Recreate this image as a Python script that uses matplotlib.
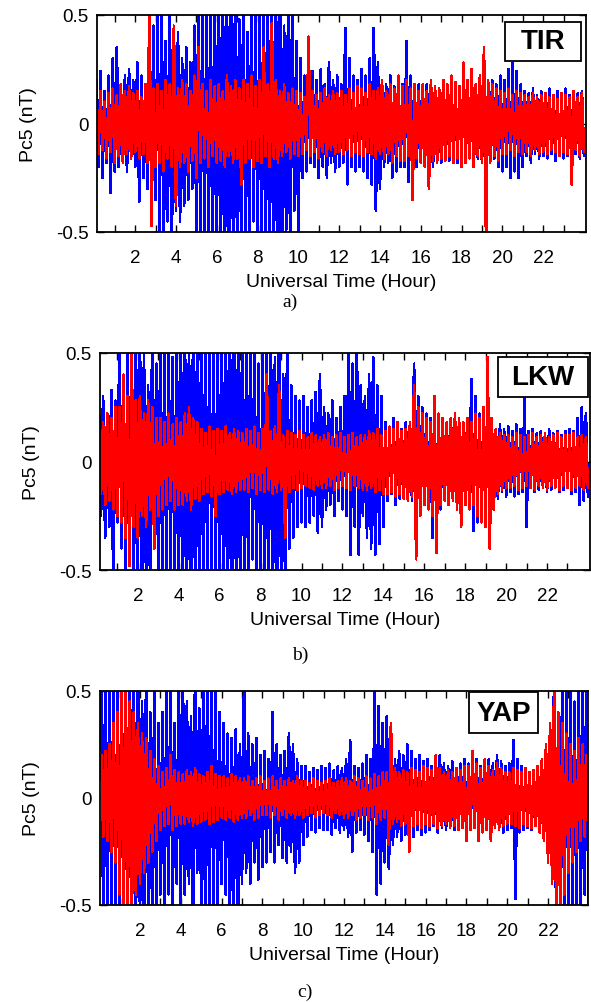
import numpy as np
import matplotlib
matplotlib.use("Agg")
import matplotlib.pyplot as plt
from matplotlib.patches import Rectangle

# ---- data: envelope peaks in units of 0.01 nT, 5 samples per hour (0.2 h step) ----
# up values at t = 0.1, 0.3, ...; down values at t = 0.2, 0.4, ...
stations = ["TIR", "LKW", "YAP"]
panel_tags = ["a)", "b)", "c)"]
hours = list(range(1, 24))
tick_labels = [str(h) if h % 2 == 0 else "" for h in hours]

tir_blue_up = [20,24,15,22,30, 35,18,22,25,20, 28,22,18,35,45, 50,55,38,50,45, 42,30,35,28,45,
               60,60,60,55,60, 60,60,55,60,60, 48,60,42,60,55, 60,60,60,55,60, 60,45,55,60,38,
               30,22,28,24,20, 25,18,28,20,22, 18,44,30,22,20, 25,22,30,44,28, 20,18,22,17,20,
               18,38,22,15,18, 16,18,14,17,15, 15,17,14,16,15, 16,14,17,15,18, 16,15,20,18,22,
               20,25,28,24,18, 15,14,16,13,15, 14,16,13,15,14, 16,13,15,14,15]
tir_blue_dn = [-20,-25,-18,-32,-22, -20,-18,-22,-15,-20, -36,-25,-30,-22,-35, -50,-60,-45,-55,-40,
               -45,-38,-35,-30,-50, -60,-60,-60,-60,-55, -60,-60,-60,-55,-60, -60,-50,-60,-45,-60,
               -60,-60,-55,-60,-60, -60,-50,-60,-40,-55, -25,-22,-18,-20,-25, -20,-25,-18,-22,-20,
               -18,-28,-20,-22,-20, -22,-25,-28,-40,-30, -20,-18,-25,-22,-20, -20,-27,-18,-20,-17,
               -18,-15,-20,-16,-18, -15,-17,-16,-18,-15, -17,-15,-20,-16,-18, -15,-18,-16,-20,-22,
               -20,-25,-22,-25,-20, -15,-18,-14,-16,-15, -16,-14,-17,-15,-16, -15,-17,-14,-16,-15]
tir_red_up = [12,15,10,14,16, 13,18,15,17,14, 15,12,18,55,16, 18,15,20,18,45, 16,20,18,15,22,
              35,18,15,20,17, 18,15,22,17,20, 16,20,18,22,17, 20,35,18,46,20, 15,18,14,16,15,
              14,12,40,15,13, 14,16,13,15,14, 15,13,16,14,17, 16,14,18,15,16, 20,15,18,16,22,
              17,20,16,18,15, 18,15,20,17,16, 20,18,22,19,17, 28,20,25,18,22, 35,20,18,16,15,
              14,16,13,15,14, 13,12,14,12,13, 14,12,13,11,14, 13,12,15,12,14]
tir_red_dn = [-14,-12,-16,-13,-18, -15,-18,-14,-16,-13, -16,-14,-18,-47,-20, -18,-22,-16,-20,-38,
              -20,-18,-22,-17,-25, -18,-16,-20,-15,-18, -17,-20,-15,-18,-16, -28,-18,-16,-20,-17,
              -18,-15,-20,-16,-18, -15,-13,-16,-14,-15, -14,-12,-15,-13,-16, -13,-15,-12,-14,-13,
              -14,-12,-15,-13,-14, -15,-13,-14,-16,-14, -16,-14,-18,-15,-17, -17,-15,-35,-16,-18,
              -20,-30,-17,-18,-16, -17,-15,-18,-16,-20, -18,-16,-20,-15,-18, -55,-18,-15,-17,-14,
              -14,-12,-15,-13,-14, -13,-15,-12,-14,-13, -14,-12,-13,-15,-13, -14,-28,-12,-15,-13]

lkw_blue_up = [25,30,20,33,28, 60,40,55,45,60, 60,50,35,60,45, 60,55,60,48,60, 60,60,52,60,60,
               60,60,60,55,60, 60,60,60,60,55, 60,50,60,60,45, 60,55,60,48,60, 40,60,35,30,28,
               30,25,28,32,40, 25,22,28,20,25, 30,60,45,60,35, 30,40,48,35,30, 18,15,20,16,15,
               18,15,45,30,25, 22,20,25,18,20, 18,20,16,18,15, 20,38,30,22,20, 18,16,15,17,15,
               16,14,17,15,30, 14,15,13,14,12, 15,13,14,12,14, 15,14,20,25,22]
lkw_blue_dn = [-25,-35,-30,-60,-28, -40,-60,-45,-60,-50, -60,-55,-60,-40,-55, -60,-60,-50,-60,-55,
               -60,-55,-60,-60,-60, -60,-60,-55,-60,-60, -60,-60,-60,-55,-60, -55,-60,-45,-60,-60,
               -60,-50,-60,-60,-55, -60,-40,-35,-30,-28, -30,-28,-25,-33,-30, -22,-20,-25,-18,-22,
               -25,-43,-30,-43,-25, -35,-40,-43,-38,-30, -18,-15,-20,-17,-15, -15,-18,-20,-22,-18,
               -20,-35,-30,-22,-18, -18,-16,-20,-17,-15, -20,-32,-28,-20,-18, -18,-15,-17,-14,-16,
               -14,-16,-15,-14,-30, -12,-14,-13,-12,-14, -13,-12,-14,-13,-12, -15,-14,-20,-18,-16]
lkw_red_up = [15,18,22,20,25, 25,40,30,50,28, 30,22,28,25,20, 20,18,22,17,20, 18,22,25,20,18,
              15,13,16,14,15, 14,16,13,15,14, 13,15,14,16,13, 15,40,14,16,35, 12,14,13,12,14,
              12,11,13,12,11, 12,13,11,12,13, 11,12,13,11,12, 12,14,13,15,12, 14,16,15,18,14,
              15,18,35,25,22, 20,18,30,22,20, 18,20,22,20,18, 20,18,22,20,25, 48,20,15,13,12,
              12,11,13,12,11, 12,13,11,12,13, 11,12,13,11,12, 12,13,11,12,11]
lkw_red_dn = [-15,-20,-18,-22,-25, -28,-35,-48,-30,-35, -25,-30,-22,-40,-25, -22,-20,-18,-22,-20,
              -20,-18,-22,-17,-18, -15,-14,-16,-25,-15, -14,-13,-15,-14,-13, -13,-14,-12,-15,-13,
              -14,-13,-15,-14,-13, -35,-14,-12,-13,-12, -11,-12,-13,-11,-12, -12,-11,-13,-12,-11,
              -12,-13,-11,-12,-13, -13,-12,-14,-13,-15, -15,-14,-16,-15,-17, -18,-16,-45,-25,-20,
              -22,-25,-42,-20,-18, -20,-18,-22,-30,-20, -22,-20,-25,-28,-30, -40,-22,-15,-13,-12,
              -12,-11,-13,-12,-11, -12,-13,-11,-12,-13, -11,-12,-13,-11,-12, -13,-12,-11,-13,-12]

yap_blue_up = [60,60,55,60,60, 60,55,60,50,60, 45,60,40,50,35, 40,55,50,35,60, 60,45,38,60,42,
               50,60,60,55,40, 35,30,28,32,25, 55,30,25,28,20, 22,18,40,25,20, 22,30,25,18,15,
               15,12,14,13,15, 14,16,13,15,14, 18,27,15,14,16, 20,18,50,43,35, 38,20,18,22,20,
               25,22,18,20,17, 18,15,17,20,16, 15,17,14,16,18, 16,14,18,15,17, 18,16,20,17,15,
               16,27,18,15,14, 12,13,11,12,14, 30,60,40,60,50, 60,45,60,55,60]
yap_blue_dn = [-60,-60,-55,-60,-60, -60,-60,-50,-60,-55, -60,-50,-60,-55,-45, -60,-45,-55,-40,-50,
               -45,-40,-60,-35,-50, -60,-60,-55,-60,-40, -45,-60,-50,-60,-40, -35,-40,-30,-38,-32,
               -30,-25,-30,-22,-28, -30,-25,-35,-30,-22, -18,-15,-16,-14,-15, -15,-17,-14,-16,-15,
               -18,-25,-16,-15,-17, -20,-25,-45,-40,-30, -33,-22,-18,-20,-17, -16,-18,-15,-17,-16,
               -15,-13,-16,-14,-15, -13,-15,-12,-14,-13, -14,-13,-15,-12,-14, -15,-13,-14,-16,-15,
               -14,-47,-16,-15,-14, -15,-13,-16,-14,-18, -35,-60,-45,-60,-50, -60,-55,-60,-45,-60]
yap_red_up = [20,22,25,35,40, 50,55,45,40,35, 30,28,22,18,15, 12,14,20,13,12, 11,13,12,14,11,
              10,12,15,11,10, 10,9,11,10,9, 9,10,8,9,10, 8,9,10,8,9, 8,9,8,10,8,
              8,7,9,8,7, 8,9,7,8,9, 9,8,10,9,8, 10,9,11,10,12, 12,35,14,12,13,
              12,14,13,12,15, 14,13,20,14,12, 13,12,14,13,15, 15,22,16,14,18, 15,13,16,14,12,
              12,14,13,12,14, 12,13,15,18,25, 35,55,40,35,30, 25,22,28,25,20]
yap_red_dn = [-18,-20,-25,-30,-45, -55,-50,-60,-45,-40, -35,-30,-25,-20,-15, -13,-12,-15,-13,-12,
              -12,-11,-13,-12,-11, -10,-12,-11,-10,-9, -10,-9,-11,-10,-9, -9,-8,-10,-9,-8,
              -8,-9,-8,-10,-8, -9,-8,-9,-8,-9, -8,-7,-9,-8,-7, -8,-9,-7,-8,-9,
              -9,-8,-10,-9,-8, -10,-9,-12,-10,-9, -22,-12,-11,-13,-12, -25,-13,-12,-14,-12,
              -13,-12,-14,-13,-12, -14,-13,-15,-14,-20, -15,-14,-20,-16,-15, -20,-14,-15,-13,-12,
              -12,-13,-14,-12,-13, -14,-13,-16,-20,-30, -40,-55,-60,-45,-35, -30,-25,-20,-18,-15]

series = [
    (tir_blue_up, tir_blue_dn, tir_red_up, tir_red_dn),
    (lkw_blue_up, lkw_blue_dn, lkw_red_up, lkw_red_dn),
    (yap_blue_up, yap_blue_dn, yap_red_up, yap_red_dn),
]

# ---- layout ----
W, H = 591, 1003
fig = plt.figure(figsize=(W / 100, H / 100), dpi=100)

def frac(l, t, r, b):
    return [l / W, (H - b) / H, (r - l) / W, (b - t) / H]

axes_px = [(97, 16, 586, 233), (100, 354, 590, 571), (100, 692, 588, 906)]
xlims = [(0.13, 24.1), (0.15, 24.1), (0.04, 23.96)]
boxes = [(0.834, 0.788, 0.156, 0.180), (0.812, 0.797, 0.184, 0.185), (0.756, 0.804, 0.142, 0.191)]
tag_pos = [(290, 302), (300, 655), (305, 992)]

sans = ["Liberation Sans", "DejaVu Sans"]
serif = ["Liberation Serif", "DejaVu Serif"]


def zigzag(up, dn):
    up = np.asarray(up, float) / 100.0
    dn = np.asarray(dn, float) / 100.0
    y = np.empty(up.size + dn.size)
    y[0::2] = up
    y[1::2] = dn
    t = 0.1 + 0.1 * np.arange(y.size)
    return t, y


for i in range(3):
    ax = fig.add_axes(frac(*axes_px[i]))
    bu, bd, ru, rd = series[i]
    tb, yb = zigzag(bu, bd)
    tr, yr = zigzag(ru, rd)
    ax.plot(tb, yb, color=(0, 0, 1), lw=1.25, zorder=2, antialiased=False)
    ax.plot(tr, yr, color=(1, 0, 0), lw=1.25, zorder=3, antialiased=False)
    ax.set_xlim(*xlims[i])
    ax.set_ylim(-0.5, 0.5)
    ax.set_xticks(hours)
    ax.set_xticklabels(tick_labels, fontfamily=sans, fontsize=13.5)
    ax.set_yticks([-0.5, 0, 0.5])
    ax.set_yticklabels(["-0.5", "0", "0.5"], fontfamily=sans, fontsize=13.5)
    ax.tick_params(direction="in", length=5, width=1, top=True, right=True)
    ax.tick_params(axis="x", pad=12)
    ax.tick_params(axis="y", pad=6)
    for s in ax.spines.values():
        s.set_linewidth(1.3)
        s.set_zorder(5)
    ax.set_xlabel("Universal Time (Hour)", fontfamily=sans, fontsize=14, labelpad=5)
    ax.set_ylabel("Pc5 (nT)", fontfamily=sans, fontsize=14, labelpad=14)
    bx, by, bw, bh = boxes[i]
    ax.add_patch(Rectangle((bx, by), bw, bh, transform=ax.transAxes, facecolor="white",
                           edgecolor="black", lw=1.3, zorder=10, clip_on=False))
    ax.text(bx + bw / 2, by + bh / 2, stations[i], transform=ax.transAxes, ha="center",
            va="center", fontsize=20, fontweight="bold", fontfamily=sans, zorder=11)
    tx, ty = tag_pos[i]
    fig.text(tx / W, 1 - ty / H, panel_tags[i], ha="center", va="center",
             fontfamily=serif, fontsize=14)

fig.savefig("out.png", dpi=100)
